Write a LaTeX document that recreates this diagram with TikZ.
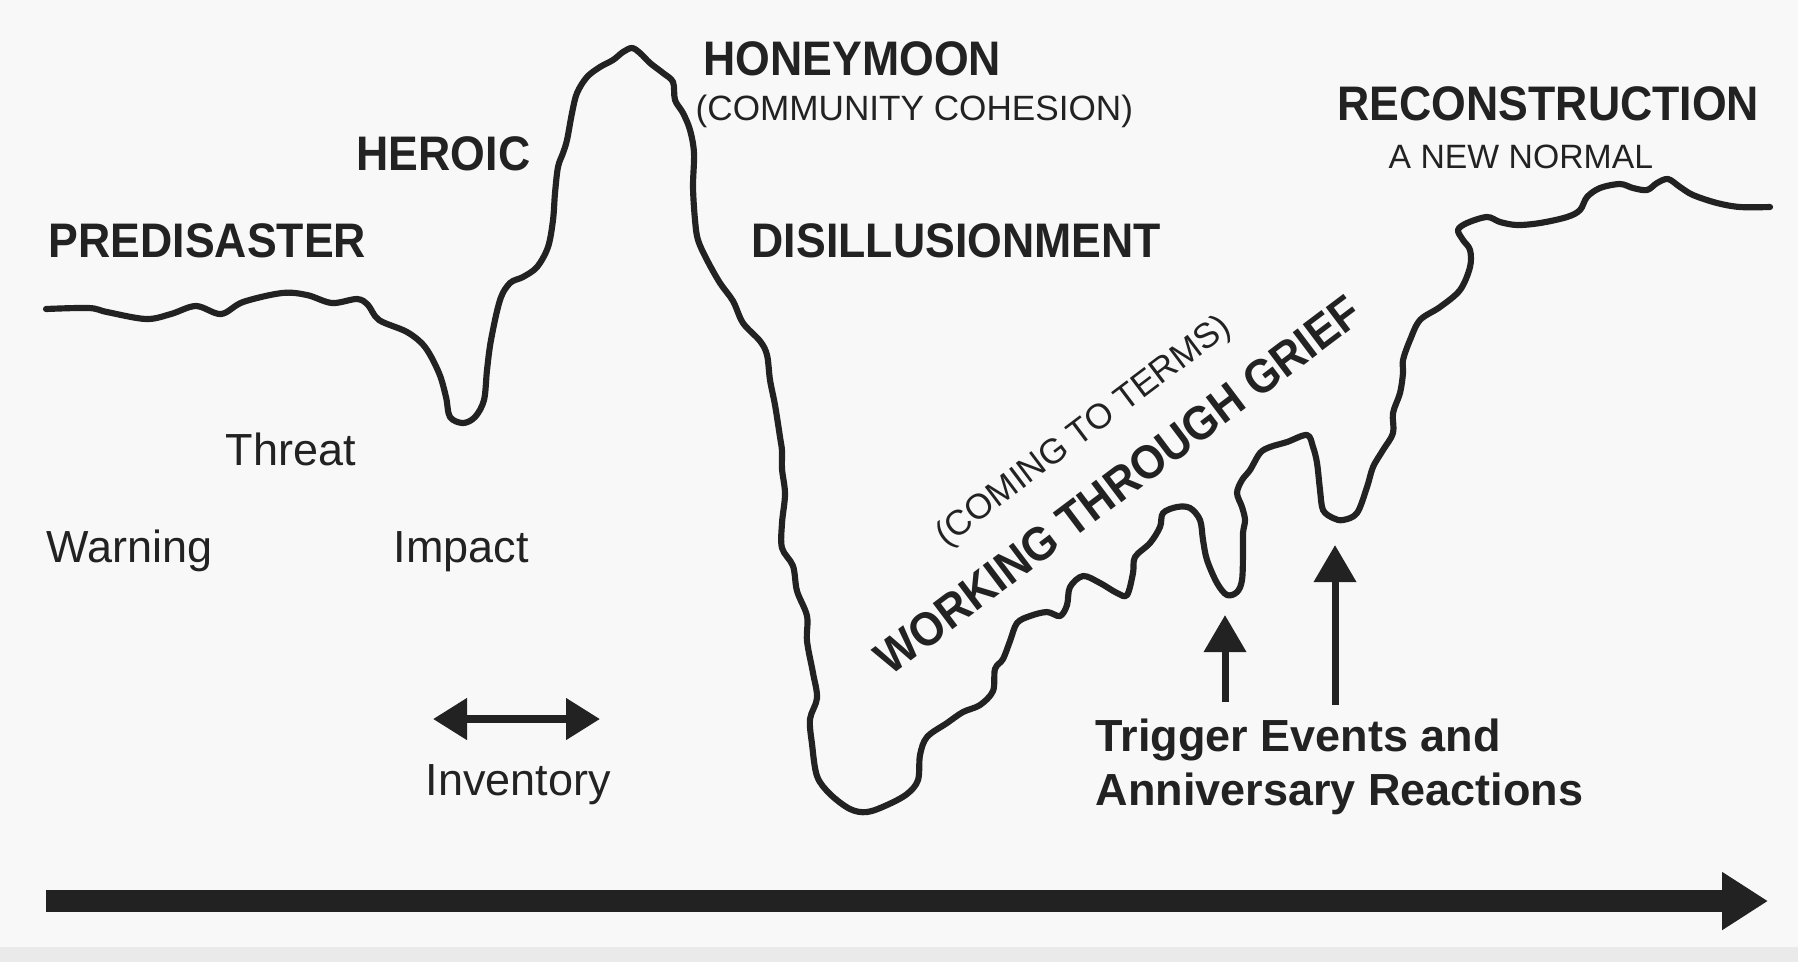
\documentclass[tikz,border=0pt]{standalone}
\usepackage{fontspec}
\setmainfont{Liberation Sans}
\newfontfamily\headfont{Liberation Sans}[FakeStretch=0.92]
\usetikzlibrary{arrows.meta}
\definecolor{ink}{HTML}{222222}
\definecolor{paper}{HTML}{F8F8F8}
\definecolor{strip}{HTML}{EAEAEA}

\begin{document}
\begin{tikzpicture}[
  x=0.1mm, y=-0.1mm,
  lbl/.style={inner sep=0pt,anchor=base west,text=ink},
  head/.style={lbl,font=\headfont\bfseries\fontsize{13.8}{16}\selectfont},
  note/.style={lbl,font=\fontsize{12.8}{15}\selectfont},
  small/.style={lbl,font=\fontsize{10}{12}\selectfont},
  curve/.style={draw=ink,line width=1.75pt,line cap=round,line join=round},
  flow/.style={draw=ink,line width=2pt,-{Triangle[length=3.7mm,width=4.1mm]}},
  timeline/.style={draw=ink,line width=6.3pt,-{Triangle[length=4.6mm,width=5.5mm]}}
]
\fill[paper] (0,0) rectangle (1798,962);
\fill[strip] (0,947) rectangle (1798,962);
\useasboundingbox (0,0) rectangle (1798,962);

\draw[curve] plot[smooth,tension=0.55] coordinates {
  (46,309) (89,308) (107,312) (146,319) (171,314) (196,306) (221,314) (243,302)
  (282,293) (307,295) (332,303) (357,299) (368,305) (379,320) (407,332) (425,347)
  (439,373) (446,397) (450,417) (463,423) (475,417) (484,400) (487,370) (491,340)
  (500,300) (510,283) (523,277) (537,267) (548,247) (553,220) (555,193) (558,167)
  (563,153) (567,140) (572,113) (577,93) (587,77) (600,67) (613,60) (623,52)
  (632,48) (640,53) (650,63) (663,73) (673,82) (675,100) (683,113) (690,130)
  (694,153) (693,187) (695,220) (698,240) (707,260) (720,283) (733,301) (743,323)
  (760,341) (767,355) (770,380) (775,405) (780,437) (782,451) (782,469) (785,494)
  (782,523) (782,548) (793,566) (797,591) (807,616) (807,641) (813,673) (817,698)
  (810,719) (812,744) (817,776) (830,794) (850,809) (867,812) (887,805) (907,794)
  (918,780) (920,755) (927,737) (947,723) (963,712) (980,705) (993,691) (995,669)
  (1003,659) (1010,641) (1017,623) (1030,616) (1047,612) (1060,616) (1067,605) (1070,587)
  (1083,576) (1100,583) (1117,593) (1127,595) (1133,573) (1135,557) (1150,543) (1160,527)
  (1163,513) (1177,507) (1190,508) (1200,520) (1203,540) (1207,560) (1217,583) (1227,595)
  (1237,592) (1242,580) (1243,553) (1243,533) (1245,520) (1242,507) (1237,493) (1242,480)
  (1250,470) (1260,453) (1270,447) (1287,442) (1307,435) (1313,447) (1317,463) (1320,490)
  (1323,510) (1333,518) (1343,520) (1357,513) (1367,487) (1373,467) (1383,450) (1393,433)
  (1393,413) (1400,393) (1403,373) (1403,360) (1410,340) (1420,320) (1440,307) (1460,290)
  (1470,267) (1470,250) (1463,240) (1458,230) (1467,223) (1487,217) (1500,222) (1517,225)
  (1540,223) (1567,217) (1580,210) (1587,197) (1600,188) (1620,184) (1633,188) (1647,190)
  (1657,183) (1668,179) (1680,187) (1693,195) (1717,203) (1740,207) (1770,207)};

\node[head] (predis) at (48,257) {PREDISASTER};
\node[head] (heroic) at (356,170) {HEROIC};
\node[head] (honey) at (703,75) {HONEYMOON};
\node[small] (cohes) at (695,120) {(COMMUNITY COHESION)};
\node[head] (disill) at (751,257) {DISILLUSIONMENT};
\node[head] (recon) at (1337,120) {RECONSTRUCTION};
\node[lbl,font=\fontsize{9.6}{11}\selectfont] (normal) at (1388,168) {A NEW NORMAL};

\node[note] (threat) at (225,465) {Threat};
\node[note] (warn) at (46,562) {Warning};
\node[note] (impact) at (393,562) {Impact};
\node[note] (invent) at (425,795) {Inventory};

\node[head,anchor=center,rotate=37,font=\headfont\bfseries\fontsize{13.5}{16}\selectfont]
  (grief) at (1118,485) {WORKING THROUGH GRIEF};
\node[small,anchor=center,rotate=37] (terms) at (1084,432) {(COMING TO TERMS)};

\node[lbl,align=left,font=\bfseries\fontsize{12.8}{15.1}\selectfont] (trig) at (1095,805)
  {Trigger Events and\\Anniversary Reactions};

\coordinate (invL) at (433,719);
\coordinate (invR) at (600,719);
\draw[flow,{Triangle[length=3.4mm,width=4mm]}-{Triangle[length=3.4mm,width=4mm]},line width=2.2pt] (invL) -- (invR);

\coordinate (t1) at (1225,702);
\coordinate (t1top) at (1225,615);
\coordinate (t2) at (1335,705);
\coordinate (t2top) at (1335,545);
\draw[flow] (t1) -- (t1top);
\draw[flow] (t2) -- (t2top);

\coordinate (start) at (46,901);
\coordinate (stop) at (1768,901);
\draw[timeline] (start) -- (stop);
\end{tikzpicture}
\end{document}
